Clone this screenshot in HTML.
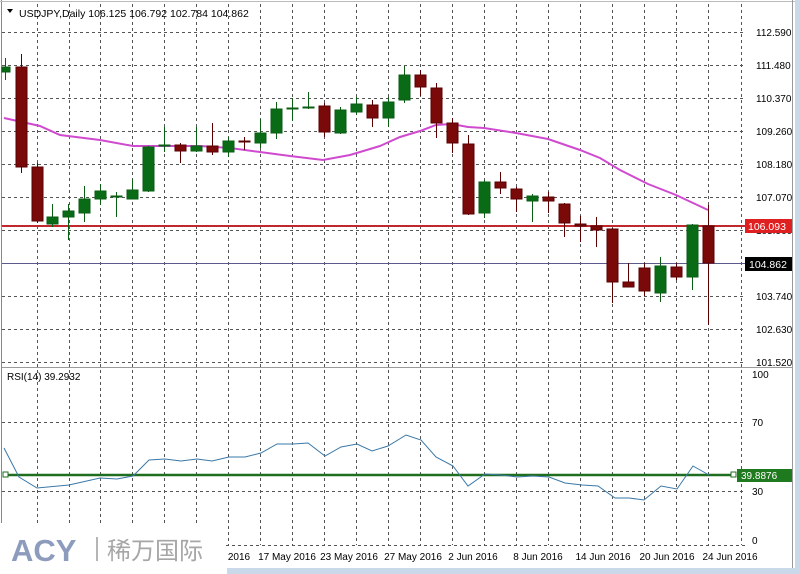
<!DOCTYPE html>
<html><head><meta charset="utf-8"><style>
html,body{margin:0;padding:0;background:#fff;}
svg{display:block;}
text{font-family:"Liberation Sans","DejaVu Sans",sans-serif;}
</style></head><body>
<svg width="800" height="574" viewBox="0 0 800 574" xmlns="http://www.w3.org/2000/svg">
<rect width="800" height="574" fill="#fff"/>
<!-- frame -->
<line x1="1.5" y1="0" x2="1.5" y2="574" stroke="#888" stroke-width="1"/>
<line x1="0" y1="1.5" x2="800" y2="1.5" stroke="#bbb" stroke-width="1"/>
<line x1="792.5" y1="0" x2="792.5" y2="568" stroke="#999" stroke-width="1"/>
<rect x="795" y="0" width="5" height="574" fill="#c9d9ea"/>
<line x1="2" y1="367.5" x2="792" y2="367.5" stroke="#999" stroke-width="1"/>
<!-- vertical grid -->
<g stroke="#555" stroke-width="1" stroke-dasharray="3,3">
<line x1="37.5" y1="4" x2="37.5" y2="545"/><line x1="69.5" y1="4" x2="69.5" y2="545"/>
<line x1="100.5" y1="4" x2="100.5" y2="545"/><line x1="132.5" y1="4" x2="132.5" y2="545"/>
<line x1="164.5" y1="4" x2="164.5" y2="545"/><line x1="196.5" y1="4" x2="196.5" y2="545"/>
<line x1="228.5" y1="4" x2="228.5" y2="545"/><line x1="260.5" y1="4" x2="260.5" y2="545"/>
<line x1="292.5" y1="4" x2="292.5" y2="545"/><line x1="324.5" y1="4" x2="324.5" y2="545"/>
<line x1="356.5" y1="4" x2="356.5" y2="545"/><line x1="388.5" y1="4" x2="388.5" y2="545"/>
<line x1="420.5" y1="4" x2="420.5" y2="545"/><line x1="452.5" y1="4" x2="452.5" y2="545"/>
<line x1="484.5" y1="4" x2="484.5" y2="545"/><line x1="516.5" y1="4" x2="516.5" y2="545"/>
<line x1="548.5" y1="4" x2="548.5" y2="545"/><line x1="580.5" y1="4" x2="580.5" y2="545"/>
<line x1="612.5" y1="4" x2="612.5" y2="545"/><line x1="644.5" y1="4" x2="644.5" y2="545"/>
<line x1="676.5" y1="4" x2="676.5" y2="545"/><line x1="708.5" y1="4" x2="708.5" y2="545"/>
<line x1="741.5" y1="4" x2="741.5" y2="545"/>
</g>
<!-- horizontal grid main -->
<g stroke="#555" stroke-width="1" stroke-dasharray="3,3">
<line x1="2" y1="32.5" x2="745" y2="32.5"/><line x1="2" y1="65.5" x2="745" y2="65.5"/>
<line x1="2" y1="98.5" x2="745" y2="98.5"/><line x1="2" y1="131.5" x2="745" y2="131.5"/>
<line x1="2" y1="164.5" x2="745" y2="164.5"/><line x1="2" y1="197.5" x2="745" y2="197.5"/>
<line x1="2" y1="230.5" x2="745" y2="230.5"/><line x1="2" y1="296.5" x2="745" y2="296.5"/>
<line x1="2" y1="329.5" x2="745" y2="329.5"/><line x1="2" y1="362.5" x2="745" y2="362.5"/>
<line x1="2" y1="422.5" x2="745" y2="422.5"/><line x1="2" y1="491.5" x2="745" y2="491.5"/>
<line x1="226" y1="545.5" x2="745" y2="545.5"/>
</g>
<!-- right labels -->
<g font-size="10" fill="#000">
<text x="756" y="36">112.590</text><text x="756" y="69">111.480</text>
<text x="756" y="102">110.370</text><text x="756" y="135">109.260</text>
<text x="756" y="168">108.180</text><text x="756" y="201">107.070</text>
<text x="756" y="234">105.960</text><text x="756" y="300">103.740</text>
<text x="756" y="333">102.630</text><text x="756" y="366">101.520</text>
<text x="752" y="378">100</text><text x="752" y="426">70</text>
<text x="752" y="495">30</text><text x="752" y="544">0</text>
</g>
<!-- header -->
<path d="M7 9 L13 9 L10 13 Z" fill="#000"/>
<text x="19" y="17" font-size="10.5" fill="#000">USDJPY,Daily  106.125 106.792 102.784 104.862</text>
<!-- price lines -->
<line x1="2" y1="226" x2="745" y2="226" stroke="#c0282d" stroke-width="2"/>
<line x1="2" y1="263.5" x2="745" y2="263.5" stroke="#5a5a8c" stroke-width="1"/>
<rect x="745" y="219" width="47" height="14" fill="#e02020"/>
<text x="748" y="230" font-size="10.5" fill="#fff">106.093</text>
<rect x="745" y="257" width="47" height="14" fill="#000"/>
<text x="749" y="268" font-size="10.5" fill="#fff">104.862</text>
<!-- MA -->
<polyline fill="none" stroke="#d04ad0" stroke-width="2" points="4,118 13,120 40,126 60,135 100,140 133,146 165,146 200,146 230,148 260,152 290,156 323,160 350,155 380,146 400,137 420,131 436,125 452,124 468,127 484,128 516,133 548,139 580,150 600,158 620,170 648,184 676,195 708,210"/>
<!-- candles -->
<g stroke-width="1">
<g stroke="#0a5e14" fill="#0a6b17">
<line x1="5.5" y1="58" x2="5.5" y2="80"/><rect x="2" y="67" width="8" height="5"/>
<line x1="52.5" y1="204" x2="52.5" y2="227"/><rect x="47" y="217" width="11" height="7"/>
<line x1="68.5" y1="204" x2="68.5" y2="240"/><rect x="63" y="211" width="11" height="6"/>
<line x1="84.5" y1="186" x2="84.5" y2="222"/><rect x="79" y="199" width="11" height="14"/>
<line x1="100.5" y1="184" x2="100.5" y2="205"/><rect x="95" y="191" width="11" height="8"/>
<line x1="116.5" y1="192" x2="116.5" y2="217"/><rect x="111" y="196" width="11" height="1"/>
<line x1="132.5" y1="179" x2="132.5" y2="199"/><rect x="127" y="190" width="11" height="9"/>
<line x1="148.5" y1="146" x2="148.5" y2="192"/><rect x="143" y="147" width="11" height="44"/>
<line x1="164.5" y1="127" x2="164.5" y2="152"/><rect x="159" y="145" width="11" height="1"/>
<line x1="196.5" y1="127" x2="196.5" y2="152"/><rect x="191" y="146" width="11" height="5"/>
<line x1="228.5" y1="137" x2="228.5" y2="157"/><rect x="223" y="141" width="11" height="11"/>
<line x1="260.5" y1="119" x2="260.5" y2="148"/><rect x="255" y="133" width="11" height="10"/>
<line x1="276.5" y1="102" x2="276.5" y2="139"/><rect x="271" y="109" width="11" height="24"/>
<line x1="292.5" y1="98" x2="292.5" y2="121"/><rect x="287" y="108" width="11" height="1"/>
<line x1="308.5" y1="92" x2="308.5" y2="109"/><rect x="303" y="107" width="11" height="1"/>
<line x1="340.5" y1="107" x2="340.5" y2="134"/><rect x="335" y="110" width="11" height="23"/>
<line x1="356.5" y1="97" x2="356.5" y2="115"/><rect x="351" y="104" width="11" height="8"/>
<line x1="388.5" y1="97" x2="388.5" y2="127"/><rect x="383" y="102" width="11" height="16"/>
<line x1="404.5" y1="66" x2="404.5" y2="103"/><rect x="399" y="75" width="11" height="25"/>
<line x1="484.5" y1="180" x2="484.5" y2="218"/><rect x="479" y="182" width="11" height="31"/>
<line x1="532.5" y1="194" x2="532.5" y2="222"/><rect x="527" y="196" width="11" height="5"/>
<line x1="660.5" y1="257" x2="660.5" y2="302"/><rect x="655" y="266" width="11" height="27"/>
<line x1="692.5" y1="224" x2="692.5" y2="290"/><rect x="687" y="225" width="11" height="52"/>
</g>
<g stroke="#5a0000" fill="#7a0a0a">
<line x1="21.5" y1="54" x2="21.5" y2="173"/><rect x="16" y="67" width="11" height="100"/>
<line x1="37.5" y1="163" x2="37.5" y2="223"/><rect x="32" y="167" width="11" height="54"/>
<line x1="180.5" y1="143" x2="180.5" y2="163"/><rect x="175" y="145" width="11" height="6"/>
<line x1="212.5" y1="123" x2="212.5" y2="155"/><rect x="207" y="146" width="11" height="6"/>
<line x1="244.5" y1="137" x2="244.5" y2="150"/><rect x="239" y="141" width="11" height="1"/>
<line x1="324.5" y1="103" x2="324.5" y2="137"/><rect x="319" y="106" width="11" height="26"/>
<line x1="372.5" y1="100" x2="372.5" y2="127"/><rect x="367" y="105" width="11" height="13"/>
<line x1="420.5" y1="70" x2="420.5" y2="96"/><rect x="415" y="75" width="11" height="12"/>
<line x1="436.5" y1="83" x2="436.5" y2="138"/><rect x="431" y="88" width="11" height="35"/>
<line x1="452.5" y1="118" x2="452.5" y2="153"/><rect x="447" y="123" width="11" height="20"/>
<line x1="468.5" y1="135" x2="468.5" y2="215"/><rect x="463" y="144" width="11" height="70"/>
<line x1="500.5" y1="172" x2="500.5" y2="194"/><rect x="495" y="182" width="11" height="6"/>
<line x1="516.5" y1="187" x2="516.5" y2="212"/><rect x="511" y="189" width="11" height="10"/>
<line x1="548.5" y1="192" x2="548.5" y2="213"/><rect x="543" y="197" width="11" height="4"/>
<line x1="564.5" y1="203" x2="564.5" y2="237"/><rect x="559" y="204" width="11" height="19"/>
<line x1="580.5" y1="216" x2="580.5" y2="242"/><rect x="575" y="224" width="11" height="2"/>
<line x1="596.5" y1="217" x2="596.5" y2="247"/><rect x="591" y="226" width="11" height="4"/>
<line x1="612.5" y1="228" x2="612.5" y2="303"/><rect x="607" y="229" width="11" height="53"/>
<line x1="628.5" y1="263" x2="628.5" y2="287"/><rect x="623" y="282" width="11" height="5"/>
<line x1="644.5" y1="263" x2="644.5" y2="296"/><rect x="639" y="268" width="11" height="23"/>
<line x1="676.5" y1="263" x2="676.5" y2="280"/><rect x="671" y="267" width="11" height="10"/>
<line x1="708.5" y1="205" x2="708.5" y2="325"/><rect x="703" y="226" width="11" height="37"/>
</g>
</g>
<!-- RSI -->
<text x="7" y="380" font-size="10" fill="#000">RSI(14) 39.2932</text>
<line x1="4" y1="475" x2="735" y2="475" stroke="#1f6e1f" stroke-width="2.5"/>
<rect x="3" y="472" width="5" height="5" fill="#fff" stroke="#1f6e1f" stroke-width="1"/>
<rect x="731" y="472" width="5" height="5" fill="#fff" stroke="#1f6e1f" stroke-width="1"/>
<rect x="737" y="469" width="55" height="13" fill="#1f7a1f"/>
<text x="741" y="479" font-size="10" fill="#fff">39.8876</text>
<polyline fill="none" stroke="#3a78a8" stroke-width="1" points="4,448 19,477 37,488 69,485 100,478 117,479 133,476 149,460 165,459 181,461 197,459 212,461 229,457 245,457 261,453 277,444 293,444 308,443 325,456 341,447 357,444 372,451 388,446 406,435 421,440 436,457 453,466 468,486 485,474 501,475 517,477 533,476 549,477 565,483 582,485 598,486 615,498 629,498 644,500 661,486 677,489 693,466 709,475"/>
<!-- date labels -->
<g font-size="10" fill="#000" text-anchor="middle">
<text x="239" y="560">2016</text><text x="287" y="560">17 May 2016</text>
<text x="349" y="560">23 May 2016</text><text x="413" y="560">27 May 2016</text>
<text x="473" y="560">2 Jun 2016</text><text x="538" y="560">8 Jun 2016</text>
<text x="603" y="560">14 Jun 2016</text><text x="667" y="560">20 Jun 2016</text>
<text x="730" y="560">24 Jun 2016</text>
</g>
<rect x="227" y="568" width="573" height="6" fill="#c9d9ea"/>
<!-- logo -->
<rect x="0" y="523" width="226" height="51" fill="#fff"/>
<text x="11" y="561" font-size="31" font-weight="bold" fill="#8d9bbd">ACY</text>
<rect x="96" y="537" width="2" height="24" fill="#b5b5b5"/>
<text x="107" y="559" font-size="24" fill="#a6a6a6" font-family="'Noto Sans CJK SC','WenQuanYi Zen Hei',sans-serif">稀万国际</text>
</svg>
</body></html>
